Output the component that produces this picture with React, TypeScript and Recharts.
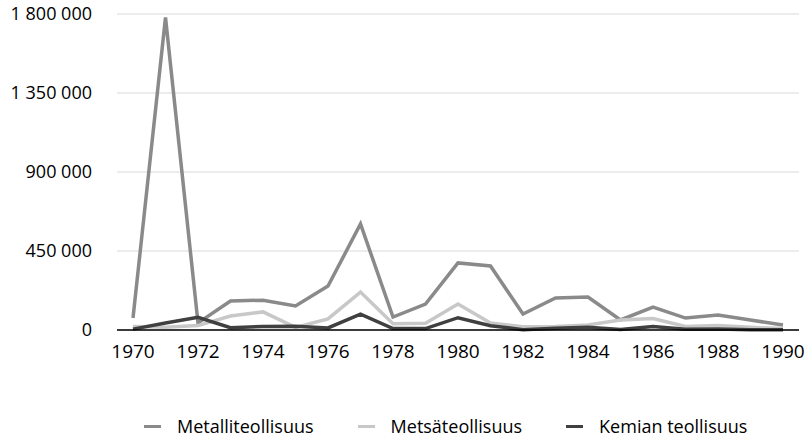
import { LineChart, Line, XAxis, YAxis, CartesianGrid, Legend } from 'recharts';

const years = [
  1970, 1971, 1972, 1973, 1974, 1975, 1976, 1977, 1978, 1979, 1980,
  1981, 1982, 1983, 1984, 1985, 1986, 1987, 1988, 1989, 1990,
];

const metalli = [
  68000, 1780000, 40000, 165000, 170000, 137000, 250000, 604000, 74000, 148000, 382000,
  365000, 91000, 182000, 188000, 57000, 131000, 68000, 85000, 57000, 28000,
];

const metsa = [
  20000, 15000, 25000, 80000, 103000, 15000, 63000, 216000, 35000, 38000, 148000,
  40000, 18000, 20000, 28000, 57000, 65000, 20000, 25000, 15000, 8000,
];

const kemia = [
  5000, 40000, 72000, 13000, 20000, 22000, 12000, 90000, 8000, 8000, 70000,
  24000, 2000, 10000, 15000, 3000, 20000, 4000, 5000, 1000, 2000,
];

const yTicks = [0, 450000, 900000, 1350000, 1800000];

const series = [
  { key: 'metalli', name: 'Metalliteollisuus', color: '#8a8a8a' },
  { key: 'metsa', name: 'Metsäteollisuus', color: '#c8c8c8' },
  { key: 'kemia', name: 'Kemian teollisuus', color: '#404040' },
];

const data = years.map((y, i) => ({
  year: y,
  metalli: metalli[i],
  metsa: metsa[i],
  kemia: kemia[i],
}));

const FONT = '"Open Sans", sans-serif';

const fmt = (v: number) => String(v).replace(/\B(?=(\d{3})+(?!\d))/g, ' ');

function LegendBox() {
  return (
    <div
      style={{
        display: 'flex',
        alignItems: 'center',
        height: 24,
        fontFamily: FONT,
        fontSize: 18,
        color: '#000',
        paddingLeft: 144,
      }}
    >
      {series.map((s, i) => (
        <div key={s.key} style={{ display: 'flex', alignItems: 'center', marginLeft: i ? 44 : 0 }}>
          <span style={{ display: 'inline-block', width: 17, height: 3, background: s.color, marginRight: 16 }} />
          <span>{s.name}</span>
        </div>
      ))}
    </div>
  );
}

export default function App() {
  return (
    <div style={{ position: 'absolute', left: 0, top: 0 }}>
      <LineChart width={808} height={440} data={data} margin={{ top: 14, right: 9, left: 0, bottom: 56 }}>
        <CartesianGrid vertical={false} stroke="#d9d9d9" strokeWidth={1.2} />
        <XAxis
          dataKey="year"
          interval={1}
          padding={{ left: 16, right: 16 }}
          tickLine={false}
          tickSize={0}
          tickMargin={15}
          height={30}
          axisLine={{ stroke: '#000', strokeWidth: 1.5 }}
          tick={{ fill: '#000', fontSize: 19, fontFamily: FONT }}
        />
        <YAxis
          domain={[0, 1800000]}
          ticks={yTicks}
          tickFormatter={fmt}
          width={117}
          axisLine={false}
          tickLine={false}
          tickSize={0}
          tickMargin={25}
          tick={{ fill: '#000', fontSize: 18, fontFamily: FONT }}
        />
        <Legend verticalAlign="bottom" wrapperStyle={{ bottom: 2, left: 0, width: 808, height: 24 }} content={() => <LegendBox />} />
        {series.map((s) => (
          <Line
            key={s.key}
            type="linear"
            dataKey={s.key}
            name={s.name}
            stroke={s.color}
            strokeWidth={3.5}
            dot={false}
            activeDot={false}
            isAnimationActive={false}
          />
        ))}
      </LineChart>
    </div>
  );
}
